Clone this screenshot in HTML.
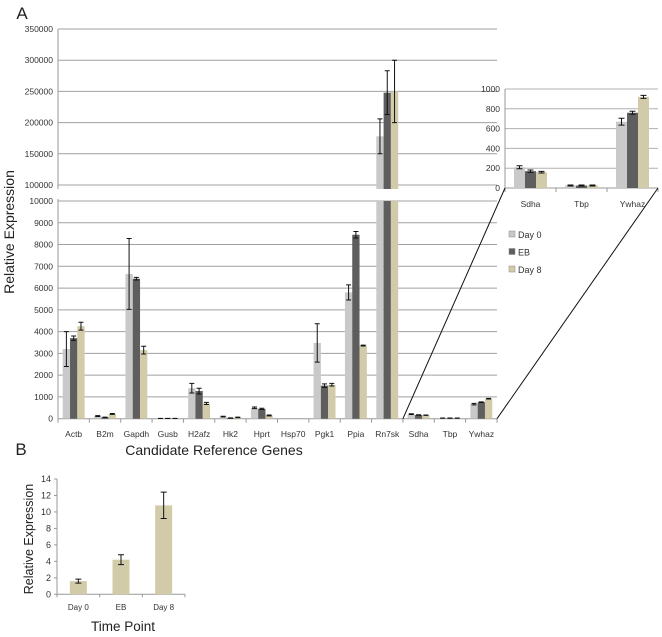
<!DOCTYPE html>
<html><head><meta charset="utf-8"><style>
body{margin:0;background:#fff}
svg{display:block;font-family:"Liberation Sans",sans-serif}
</style></head><body>
<svg id="c" width="662" height="637" viewBox="0 0 662 637"></svg>
<script>
const genes=["Actb","B2m","Gapdh","Gusb","H2afz","Hk2","Hprt","Hsp70","Pgk1","Ppia","Rn7sk","Sdha","Tbp","Ywhaz"];
const day0=[3200,120,6650,10,1400,100,500,0,3480,5800,178000,210,25,670];
const eb=[3700,60,6430,10,1270,30,450,0,1520,8450,248000,170,25,760];
const day8=[4250,220,3150,10,700,60,150,0,1560,3360,250000,160,25,920];
const err0=[800,20,1630,3,220,15,40,0,880,350,28000,15,5,35];
const errEB=[100,10,60,3,130,8,30,0,80,150,35000,12,5,15];
const err8=[180,20,180,3,50,10,20,0,60,20,50000,8,5,15];
const upperTicks=[100000,150000,200000,250000,300000,350000];
const lowerTicks=[0,1000,2000,3000,4000,5000,6000,7000,8000,9000,10000];
const insetGenes=["Sdha","Tbp","Ywhaz"];
const insetTicks=[0,200,400,600,800,1000];
const seriesNames=["Day 0","EB","Day 8"];
const timeCats=["Day 0","EB","Day 8"];
const timeVals=[1.6,4.2,10.8];
const timeErr=[0.25,0.6,1.6];
const timeTicks=[0,2,4,6,8,10,12,14];

const colors=["#c9c9c9","#5e5e5e","#d2cbaa"];
const svg=document.getElementById('c');
const NS="http://www.w3.org/2000/svg";
function mk(tag,attrs,parent){const e=document.createElementNS(NS,tag);for(const k in attrs)e.setAttribute(k,attrs[k]);(parent||svg).appendChild(e);return e;}
function txt(s,x,y,size,anchor,parent,fill){const t=mk('text',{x:x,y:y,'font-size':size,'text-anchor':anchor||'middle',fill:fill||'#333'},parent);t.textContent=s;return t;}

const X0=58,X1=497,catW=(X1-X0)/genes.length;
const yU=v=>185-(v-100000)/50000*31.2;
const yL=v=>418.7-v/10000*217.7;
const xC=i=>X0+catW*(i+0.5);
const bw=7.3;

const gA=mk('g',{});

upperTicks.forEach(t=>{const y=yU(t);mk('line',{x1:X0,x2:X1,y1:y,y2:y,stroke:'#a0a0a0','stroke-width':1},gA);const l=txt(String(t),X0-5,y+3,8.5,'end',gA);});
lowerTicks.forEach(t=>{const y=yL(t);if(t>0)mk('line',{x1:X0,x2:X1,y1:y,y2:y,stroke:'#a0a0a0','stroke-width':1},gA);const l=txt(String(t),X0-5,y+3,8.5,'end',gA);});
mk('line',{x1:X0,x2:X0,y1:yU(350000),y2:yU(100000)+4,stroke:'#999'},gA);
mk('line',{x1:X0,x2:X0,y1:yL(10000)-2,y2:yL(0),stroke:'#999'},gA);
mk('line',{x1:X0,x2:X1,y1:yL(0),y2:yL(0),stroke:'#999'},gA);
for(let i=0;i<=genes.length;i++){const x=X0+catW*i;mk('line',{x1:x,x2:x,y1:yL(0),y2:yL(0)+4,stroke:'#999'},gA);}
const sets=[[day0,err0],[eb,errEB],[day8,err8]];
genes.forEach((g,i)=>{
  const l=txt(g,xC(i),437,8.5,'middle',gA);
  sets.forEach((s,k)=>{
    const v=s[0][i],e=s[1][i];const x=xC(i)-bw*1.5+k*bw;
    if(v>10000){
      const r1=mk('rect',{x:x,y:yL(10000),width:bw,height:yL(0)-yL(10000),fill:colors[k]},gA);
      
      const r2=mk('rect',{x:x,y:yU(v),width:bw,height:yU(100000)+4-yU(v),fill:colors[k]},gA);
      
      const cx=x+bw/2;mk('path',{d:`M${cx-2.5},${yU(v+e)}H${cx+2.5}M${cx},${yU(v+e)}V${yU(v-e)}M${cx-2.5},${yU(v-e)}H${cx+2.5}`,stroke:'#111','stroke-width':1,fill:'none'},gA);
    }else if(v>0){
      const r=mk('rect',{x:x,y:yL(v),width:bw,height:yL(0)-yL(v),fill:colors[k]},gA);
      
      const cx=x+bw/2;mk('path',{d:`M${cx-2.5},${yL(v+e)}H${cx+2.5}M${cx},${yL(v+e)}V${yL(Math.max(0,v-e))}M${cx-2.5},${yL(Math.max(0,v-e))}H${cx+2.5}`,stroke:'#111','stroke-width':1,fill:'none'},gA);
    }
  });
});
const IX0=505,IX1=658,iW=(IX1-IX0)/insetGenes.length;
const yI=v=>188-v/1000*99;
const ib=11;
insetTicks.forEach(t=>{const y=yI(t);if(t>0)mk('line',{x1:IX0,x2:IX1,y1:y,y2:y,stroke:'#b0b0b0'},gA);const l=txt(String(t),IX0-5,y+3,8.5,'end',gA);});
mk('line',{x1:IX0,x2:IX0,y1:yI(1000),y2:yI(0),stroke:'#999'},gA);
mk('line',{x1:IX0,x2:IX1,y1:yI(0),y2:yI(0),stroke:'#999'},gA);
for(let i=0;i<=3;i++){const x=IX0+iW*i;mk('line',{x1:x,x2:x,y1:yI(0),y2:yI(0)+4,stroke:'#999'},gA);}
insetGenes.forEach((g,j)=>{
  const i=genes.indexOf(g);const cxg=IX0+iW*(j+0.5);
  const l=txt(g,cxg,207,8.5,'middle',gA);
  sets.forEach((s,k)=>{const v=s[0][i],e=s[1][i];const x=cxg-ib*1.5+k*ib;
    const r=mk('rect',{x:x,y:yI(v),width:ib,height:yI(0)-yI(v),fill:colors[k]},gA);
    
    const cx=x+ib/2;mk('path',{d:`M${cx-3},${yI(v+e)}H${cx+3}M${cx},${yI(v+e)}V${yI(v-e)}M${cx-3},${yI(v-e)}H${cx+3}`,stroke:'#111','stroke-width':1,fill:'none'},gA);
  });
});
mk('line',{x1:X0+catW*11,y1:yL(0),x2:IX0,y2:yI(0),stroke:'#111'},gA);
mk('line',{x1:X1,y1:yL(0),x2:IX1,y2:yI(0),stroke:'#111'},gA);
seriesNames.forEach((n,k)=>{const y=235+k*17.5;
  const lg=mk('g',{},gA);
  mk('rect',{x:509,y:y-4,width:6,height:6,fill:colors[k],stroke:'#888','stroke-width':0.5},lg);
  txt(n,518,y+3,9,'start',lg);});
const at=txt('Relative Expression',0,0,14,'middle',gA,'#222');at.setAttribute('transform','translate(14,232) rotate(-90)');
const xt=txt('Candidate Reference Genes',214,455,14,'middle',gA,'#222');
const la=txt('A',22,19,17,'middle',svg,'#222');

const gB=mk('g',{});
const BX0=57,BX1=185,bW=(BX1-BX0)/3;
const yB=v=>594.3-v/14*115.3;
timeTicks.forEach(t=>{const l=txt(String(t),BX0-6,yB(t)+3,9,'end',gB);mk('line',{x1:BX0-3,x2:BX0,y1:yB(t),y2:yB(t),stroke:'#999'},gB);});
mk('line',{x1:BX0,x2:BX0,y1:yB(14),y2:yB(0),stroke:'#999'},gB);
mk('line',{x1:BX0,x2:BX1,y1:yB(0),y2:yB(0),stroke:'#999'},gB);
for(let i=0;i<=3;i++){const x=BX0+bW*i;mk('line',{x1:x,x2:x,y1:yB(0),y2:yB(0)+3,stroke:'#999'},gB);}
timeCats.forEach((c,i)=>{const cx=BX0+bW*(i+0.5);const w=17;
  const r=mk('rect',{x:cx-w/2,y:yB(timeVals[i]),width:w,height:yB(0)-yB(timeVals[i]),fill:colors[2]},gB);
  
  const e=timeErr[i],v=timeVals[i];
  mk('path',{d:`M${cx-3},${yB(v+e)}H${cx+3}M${cx},${yB(v+e)}V${yB(v-e)}M${cx-3},${yB(v-e)}H${cx+3}`,stroke:'#111','stroke-width':1,fill:'none'},gB);
  const l=txt(c,cx,610,8,'middle',gB);
});
const bt=txt('Relative Expression',0,0,12.5,'middle',gB,'#222');bt.setAttribute('transform','translate(33,539) rotate(-90)');
const bx=txt('Time Point',123,631,13.5,'middle',gB,'#222');
const lb=txt('B',21,455,17,'middle',svg,'#222');
</script>
</body></html>
